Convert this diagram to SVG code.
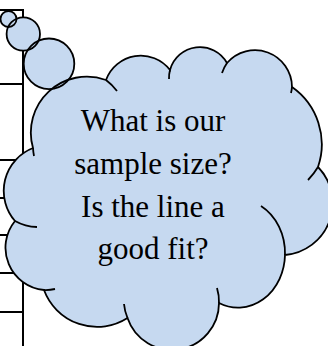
<svg xmlns="http://www.w3.org/2000/svg" xmlns:xlink="http://www.w3.org/1999/xlink" width="328" height="346" viewBox="0 0 328 346">
  <style>
    .rule { stroke: #000; stroke-width: 2; fill: none; }
    .fill { fill: #C6D9F0; stroke: none; }
    .line { fill: none; stroke: #000; stroke-width: 1.8; stroke-linecap: butt; }
    .txt { font-family: "Liberation Serif", "Times New Roman", serif; font-size: 31px; fill: #000; text-anchor: middle; }
  </style>
  <defs>
    <circle id="b1" cx="8.5" cy="19" r="8"/>
    <circle id="b2" cx="23.3" cy="34" r="16.7"/>
    <circle id="b3" cx="49" cy="63.8" r="25.3"/>
    <path id="cloudShape" d="M33,148 A56,56 0 0 1 106,80 A37,37 0 0 1 170,70 A31,31 0 0 1 227,63 A37,37 0 0 1 292,87 A70,70 0 0 1 318,167 A52,52 0 0 1 285,255 A47,54 0 0 1 219,303 A47,47 0 0 1 127.5,318 A56.6,56.6 0 0 1 44,290 A42.4,42.4 0 0 1 15,221 A46,46 0 0 1 33,148 Z"/>
  </defs>

  <g id="table">
    <line class="rule" x1="23" y1="10" x2="23" y2="346"/>
    <line class="rule" x1="0" y1="10" x2="24" y2="10"/>
    <line class="rule" x1="0" y1="84" x2="23" y2="84"/>
    <line class="rule" x1="0" y1="160" x2="23" y2="160"/>
    <line class="rule" x1="0" y1="198" x2="23" y2="198"/>
    <line class="rule" x1="0" y1="235" x2="23" y2="235"/>
    <line class="rule" x1="0" y1="273" x2="23" y2="273"/>
    <line class="rule" x1="0" y1="312" x2="23" y2="312"/>
  </g>

  <g id="callout">
    <g id="callout-fill">
      <use xlink:href="#b1" href="#b1" class="fill"/>
      <use xlink:href="#b2" href="#b2" class="fill"/>
      <use xlink:href="#b3" href="#b3" class="fill"/>
      <use xlink:href="#cloudShape" href="#cloudShape" class="fill"/>
    </g>
    <g id="callout-outline">
      <use xlink:href="#b1" href="#b1" class="line"/>
      <use xlink:href="#b2" href="#b2" class="line"/>
      <use xlink:href="#b3" href="#b3" class="line"/>
      <use xlink:href="#cloudShape" href="#cloudShape" class="line"/>
      <path class="line" d="M106,80 A56,56 0 0 1 117,91 M33,148 A56,56 0 0 0 34,156 M170,70 A31,31 0 0 0 169,79 M227,63 A37,37 0 0 0 222,73 M292,87 A37,37 0 0 1 291,93 M318,167 A70,70 0 0 1 308,180 M285,255 A47,54 0 0 0 261,206 M219,303 A47,47 0 0 0 217,288 M127.5,318 A47,47 0 0 1 124,304 M44,290 A42,42 0 0 0 55,289 M15,221 A47,47 0 0 0 37,227"/>
    </g>
    <text class="txt" x="153" y="130.5">What is our</text>
    <text class="txt" x="153" y="173.5">sample size?</text>
    <text class="txt" x="153" y="216.5">Is the line a</text>
    <text class="txt" x="153" y="259">good fit?</text>
  </g>
</svg>
